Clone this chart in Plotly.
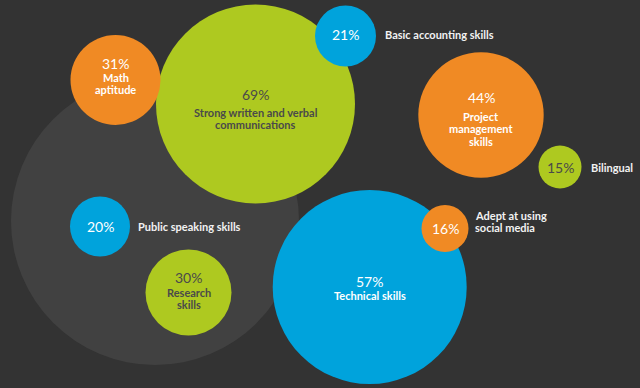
import plotly.graph_objects as go

# ---- data ----
skills = [
    ["Strong written and verbal", "communications"],
    ["Technical skills"],
    ["Math", "aptitude"],
    ["Basic accounting skills"],
    ["Project", "management", "skills"],
    ["Bilingual"],
    ["Public speaking skills"],
    ["Research", "skills"],
    ["Adept at using", "social media"],
]
values = [69, 57, 31, 21, 44, 15, 20, 30, 16]

# ---- layout (pixel positions on a 640x388 canvas) ----
cx = [255.5, 369.7, 115.5, 345.5, 481, 560, 100, 188.5, 445]
cy = [104, 287, 80, 36, 115, 167, 226.5, 292.5, 228.5]
rad = [99.5, 97, 45, 30.5, 62.7, 21.5, 30, 43, 23.5]
GREEN, BLUE, ORANGE = "#aec920", "#00a3dc", "#f08a24"
colors = [GREEN, BLUE, ORANGE, BLUE, ORANGE, GREEN, BLUE, GREEN, ORANGE]
inside = [True, True, True, False, True, False, False, True, False]
pct_y = [94, 281, 63, 34, 97, 167, 226, 277, 228]
label_y = [112, 295, 77, 34, 116, 167, 226, 292, 215]
label_x = [None, None, None, 383, None, 589, 136, None, 473]
line_gap = [12.5, 12, 12, 12, 12.5, 12, 12, 12, 12]

BG = "#333333"
FONT = "Lato"

fig = go.Figure()

# background grey disc
fig.add_trace(go.Scatter(
    x=[155], y=[221], mode="markers",
    marker=dict(size=[288], color="#474747", line=dict(width=0)),
    hoverinfo="skip", showlegend=False))

fig.add_trace(go.Scatter(
    x=cx, y=cy, mode="markers",
    marker=dict(size=[2 * v for v in rad], color=colors, line=dict(width=0),
                opacity=1),
    hoverinfo="skip", showlegend=False))

ann = []
for i, v in enumerate(values):
    tc = "#4a4a4a" if colors[i] == GREEN else "#ffffff"
    ann.append(dict(x=cx[i], y=pct_y[i], text=f"{v}%", showarrow=False,
                    xanchor="center", yanchor="middle",
                    font=dict(family=FONT, size=14, color=tc)))
    for j, line in enumerate(skills[i]):
        if inside[i]:
            ann.append(dict(x=cx[i], y=label_y[i] + j * line_gap[i],
                            text=f"<b>{line}</b>", showarrow=False,
                            xanchor="center", yanchor="middle",
                            font=dict(family=FONT, size=11, color=tc)))
        else:
            ann.append(dict(x=label_x[i], y=label_y[i] + j * line_gap[i],
                            text=f"<b>{line}</b>", showarrow=False,
                            xanchor="left", yanchor="middle",
                            font=dict(family=FONT, size=11, color="#f2f2f2")))

fig.update_layout(
    width=640, height=388,
    margin=dict(l=0, r=0, t=0, b=0),
    paper_bgcolor=BG, plot_bgcolor=BG,
    xaxis=dict(range=[0, 640], visible=False, fixedrange=True),
    yaxis=dict(range=[388, 0], visible=False, fixedrange=True),
    annotations=ann,
    showlegend=False,
)

fig.write_html(
    "out.html",
    config={"displayModeBar": False},
    post_script="document.body.style.margin='0';document.body.style.background='#333333';",
)
